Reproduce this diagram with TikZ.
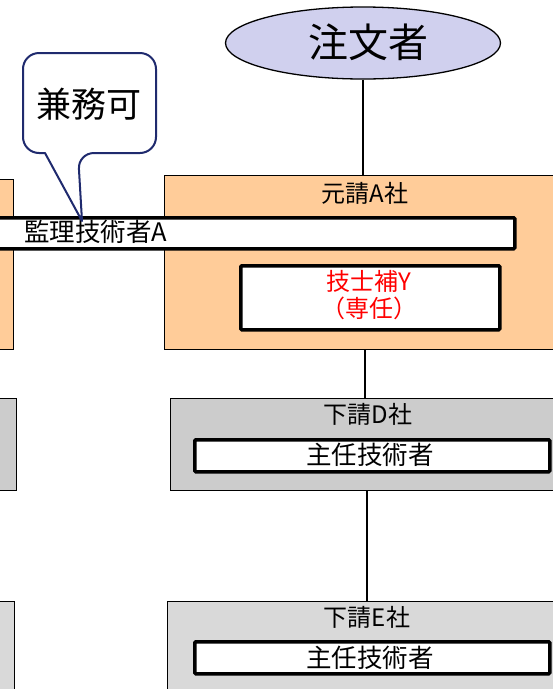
\documentclass[tikz,border=0pt]{standalone}
\usepackage{fontspec}
\setmainfont{Noto Sans CJK JP}
\usetikzlibrary{shapes.geometric}
\definecolor{orangefill}{HTML}{FFCC99}
\definecolor{grayD}{HTML}{CCCCCC}
\definecolor{grayE}{HTML}{D9D9D9}
\definecolor{lavender}{HTML}{D0D0EE}
\definecolor{navy}{HTML}{1F2A6E}
\tikzset{
  orgbox/.style={draw=black, line width=1.3pt, anchor=north west, inner sep=0pt},
  barbox/.style={draw=black, fill=white, line width=3.5pt, anchor=north west, inner sep=0pt, rounded corners=1pt},
  lbl/.style={inner sep=0pt, font=\fontsize{24}{26}\selectfont},
  conn/.style={draw=black, line width=1.3pt}
}
\begin{document}
\begin{tikzpicture}[x=1pt,y=-1pt]
\clip (0,0) rectangle (553,689);
\fill[white] (0,0) rectangle (553,689);
% top orderer
\node[ellipse, draw=black, line width=1.3pt, fill=lavender, minimum width=275pt, minimum height=72pt, inner sep=0pt] (E) at (363,43) {};
\node[inner sep=0pt, font=\fontsize{40}{42}\selectfont] (Et) at (368,42) {注文者};
% orange boxes
\node[orgbox, fill=orangefill, minimum width=436pt, minimum height=174pt] (A) at (164,175) {};
\node[orgbox, fill=orangefill, minimum width=63pt, minimum height=170pt] (AL) at (-50,179) {};
\node[lbl] (At) at (365,193) {元請A社};
% supervisor bar
\node[barbox, minimum width=563pt, minimum height=31pt] (S) at (-50,216) {};
\node[lbl, anchor=west, font=\fontsize{25.5}{26}\selectfont] (St) at (24,232) {監理技術者A};
% Y box
\node[barbox, minimum width=259pt, minimum height=64pt] (Y) at (239,264) {};
\node[lbl, text=red, align=center, font=\fontsize{24}{27}\selectfont] (Yt) at (369,295) {技士補Y\\（専任）};
% D boxes
\node[orgbox, fill=grayD, minimum width=430pt, minimum height=92pt] (D) at (170,398) {};
\node[orgbox, fill=grayD, minimum width=66pt, minimum height=92pt] (DL) at (-50,398) {};
\node[lbl] (Dt) at (368,414) {下請D社};
\node[barbox, minimum width=355pt, minimum height=32pt] (Di) at (193,438) {};
\node[lbl, font=\fontsize{25.5}{26}\selectfont] (Dit) at (370,455) {主任技術者};
% E boxes
\node[orgbox, fill=grayE, minimum width=433pt, minimum height=120pt] (Eb) at (167,601) {};
\node[orgbox, fill=grayE, minimum width=64pt, minimum height=120pt] (EL) at (-50,601) {};
\node[lbl] (Ebt) at (367,617) {下請E社};
\node[barbox, minimum width=355pt, minimum height=32pt] (Ei) at (193,640) {};
\node[lbl, font=\fontsize{25.5}{26}\selectfont] (Eit) at (370,658) {主任技術者};
% connectors
\coordinate (c1) at (365,349);
\coordinate (c2) at (367,490);
\draw[conn] (E.south) -- (E.south |- A.north);
\draw[conn] (c1) -- (c1 |- D.north);
\draw[conn] (c2) -- (c2 |- Eb.north);
% callout
\coordinate (tip) at (82,221);
\draw[navy, line width=2pt, fill=white, line join=round, rounded corners=16pt]
  (45,153) -- (23,153) -- (23,53) -- (156,53) -- (156,153) -- (78,153) [sharp corners] -- (tip) -- cycle;
\node[inner sep=0pt, font=\fontsize{35}{38}\selectfont] (K) at (89,104) {兼務可};
\end{tikzpicture}
\end{document}
